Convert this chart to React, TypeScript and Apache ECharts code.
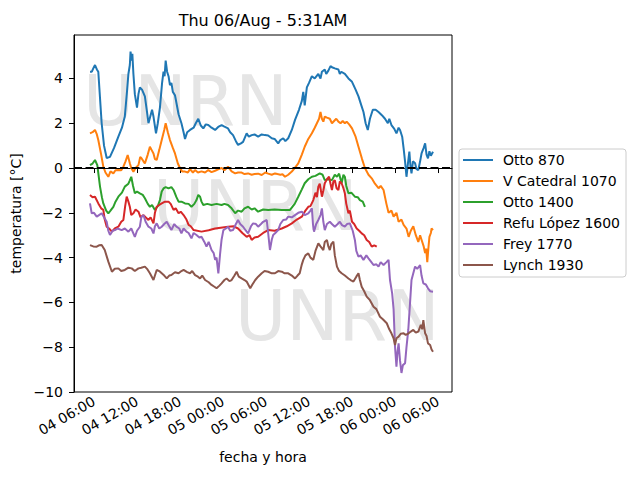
import React, { useEffect, useRef } from "react";
import * as echarts from "echarts";

// hours since 2020-08-04 00:00, temperature in ºC
const otto870: [number, number][] = [[5.44,4.3],[5.7,4.3],[5.9,4.45],[6.14,4.6],[6.4,4.4],[6.6,4.3],[7.07,2.0],[7.4,1.0],[7.77,0.45],[8.23,0.5],[8.8,0.9],[9.4,1.4],[9.9,1.8],[10.3,2.3],[10.6,3.4],[10.8,4.2],[11.0,4.6],[11.1,5.2],[11.25,4.8],[11.35,5.1],[11.5,4.2],[11.7,3.3],[12.0,2.7],[12.2,3.3],[12.4,3.6],[12.7,3.5],[13.1,3.2],[13.4,2.5],[13.6,2.0],[13.85,2.3],[14.1,2.6],[14.3,2.3],[14.65,1.55],[14.9,2.0],[15.2,2.7],[15.5,3.8],[15.7,4.3],[15.85,4.1],[16.0,4.8],[16.2,4.3],[16.4,4.1],[16.6,3.7],[16.8,3.8],[17.0,3.4],[17.3,3.25],[17.8,2.4],[18.2,2.0],[18.5,1.6],[18.7,1.3],[19.0,1.6],[19.4,1.7],[19.9,1.8],[20.2,2.0],[20.55,2.2],[20.9,1.9],[21.25,1.77],[21.6,1.95],[21.95,1.92],[22.4,1.8],[22.9,1.7],[23.4,1.85],[23.8,1.92],[24.2,1.85],[24.7,1.77],[25.0,1.6],[25.4,1.47],[25.8,1.2],[26.1,1.03],[26.5,1.1],[26.8,1.17],[27.3,1.55],[27.6,1.4],[28.0,1.47],[28.4,1.5],[28.9,1.4],[29.4,1.5],[29.85,1.47],[30.3,1.45],[30.8,1.33],[31.2,1.3],[31.7,1.1],[32.0,1.25],[32.4,1.33],[32.7,1.2],[33.1,1.33],[33.6,1.7],[34.05,2.15],[34.6,2.6],[35.0,3.0],[35.2,3.4],[35.4,2.8],[35.7,3.6],[36.0,3.8],[36.4,4.1],[36.8,4.0],[37.3,4.2],[37.6,4.0],[37.8,4.3],[38.2,4.4],[38.4,4.2],[38.7,4.35],[39.0,4.55],[39.2,4.5],[39.6,4.45],[40.1,4.4],[40.3,4.2],[40.5,4.3],[41.0,4.2],[41.5,4.0],[42.0,3.85],[42.5,3.5],[42.9,3.2],[43.3,2.8],[43.6,2.5],[43.9,2.0],[44.2,1.7],[44.5,2.2],[44.9,2.6],[45.3,2.6],[45.7,2.5],[46.2,2.35],[46.6,2.2],[47.0,2.0],[47.2,2.2],[47.5,1.92],[47.9,1.75],[48.2,1.55],[48.5,1.8],[48.7,1.7],[49.0,1.4],[49.2,0.88],[49.4,0.3],[49.6,-0.39],[49.8,0.2],[50.0,0.73],[50.15,0.1],[50.3,-0.24],[50.5,0.3],[50.8,0.21],[51.0,-0.05],[51.25,-0.09],[51.5,0.3],[51.7,0.65],[52.0,0.9],[52.2,1.1],[52.4,0.6],[52.6,0.43],[52.8,0.75],[53.0,0.55],[53.3,0.73]];

const vCatedral1070: [number, number][] = [[5.44,1.55],[5.8,1.6],[6.14,1.7],[6.4,1.5],[6.6,1.25],[7.0,0.6],[7.3,0.06],[7.6,-0.2],[8.0,-0.39],[8.3,-0.15],[8.7,-0.24],[9.0,-0.1],[9.4,-0.09],[9.8,-0.1],[10.1,0.06],[10.4,0.3],[10.7,0.58],[11.0,0.21],[11.2,0.0],[11.5,-0.16],[11.8,0.0],[12.2,0.13],[12.45,0.5],[12.65,0.43],[12.9,0.3],[13.1,0.21],[13.5,0.6],[13.8,0.95],[14.05,0.8],[14.3,0.65],[14.5,0.4],[14.75,0.36],[15.1,0.8],[15.45,1.25],[15.8,1.7],[16.0,2.0],[16.3,1.6],[16.6,1.25],[17.0,0.9],[17.3,0.65],[17.7,0.2],[18.0,0.0],[18.3,-0.15],[18.7,-0.16],[19.1,-0.2],[19.4,-0.05],[19.8,-0.2],[20.1,-0.09],[20.5,-0.2],[21.0,-0.15],[21.5,-0.2],[21.95,-0.09],[22.4,-0.18],[22.9,-0.12],[23.4,-0.05],[23.8,0.0],[24.2,-0.1],[24.7,0.06],[25.2,-0.15],[25.7,-0.24],[26.1,-0.2],[26.6,-0.2],[27.0,-0.27],[27.5,-0.24],[28.0,-0.3],[28.4,-0.27],[28.9,-0.25],[29.4,-0.31],[29.9,-0.2],[30.3,-0.25],[30.8,-0.3],[31.25,-0.24],[31.6,-0.27],[32.0,-0.3],[32.3,-0.28],[32.65,-0.39],[33.1,-0.3],[33.6,-0.16],[34.0,0.0],[34.5,0.21],[35.0,0.6],[35.4,0.95],[35.9,1.3],[36.4,1.55],[36.8,1.8],[37.1,2.0],[37.4,2.2],[37.6,2.5],[37.8,2.2],[38.0,2.07],[38.2,2.3],[38.5,2.25],[38.9,2.2],[39.2,2.0],[39.5,2.1],[39.8,2.2],[40.1,2.07],[40.4,2.0],[40.7,2.1],[41.0,2.0],[41.25,2.07],[41.6,1.95],[42.0,1.77],[42.5,1.4],[42.9,0.95],[43.4,0.4],[43.8,0.0],[44.3,-0.3],[44.75,-0.46],[45.2,-0.7],[45.7,-0.9],[46.0,-0.8],[46.4,-0.98],[46.8,-1.6],[47.1,-2.0],[47.5,-1.9],[47.8,-2.17],[48.2,-2.0],[48.5,-2.4],[48.9,-2.3],[49.2,-2.54],[49.6,-2.7],[49.9,-3.07],[50.2,-2.8],[50.55,-2.6],[50.9,-3.0],[51.25,-3.3],[51.5,-3.0],[51.7,-3.2],[52.0,-3.5],[52.2,-3.8],[52.35,-3.6],[52.5,-4.2],[52.65,-3.6],[52.8,-3.07],[53.0,-2.9],[53.1,-2.7],[53.3,-2.77]];

const otto1400: [number, number][] = [[5.44,0.13],[5.8,0.2],[6.14,0.36],[6.46,0.13],[6.84,-0.83],[7.1,-1.3],[7.3,-1.58],[7.7,-1.9],[8.0,-2.02],[8.3,-1.9],[8.7,-1.73],[9.0,-1.5],[9.4,-1.28],[9.9,-1.1],[10.3,-0.83],[10.8,-0.7],[11.0,-0.55],[11.2,-0.39],[11.45,-0.8],[11.7,-1.13],[12.0,-1.05],[12.4,-1.13],[12.8,-1.2],[13.1,-1.35],[13.5,-1.6],[13.8,-1.73],[14.1,-1.65],[14.5,-1.87],[14.9,-1.7],[15.2,-1.43],[15.45,-1.05],[15.7,-0.91],[16.0,-0.85],[16.4,-0.91],[16.8,-0.85],[17.1,-0.98],[17.5,-1.3],[17.8,-1.5],[18.2,-1.5],[18.7,-1.58],[19.2,-1.6],[19.6,-1.73],[20.0,-1.6],[20.3,-1.43],[20.55,-1.2],[20.8,-1.28],[21.0,-1.5],[21.25,-1.65],[21.8,-1.6],[22.4,-1.65],[23.1,-1.6],[23.8,-1.65],[24.2,-1.6],[24.7,-1.65],[25.2,-1.8],[25.7,-2.02],[26.1,-1.9],[26.6,-1.95],[27.0,-1.8],[27.5,-1.73],[28.0,-1.85],[28.4,-1.8],[28.9,-1.95],[29.6,-1.85],[30.3,-1.87],[31.2,-1.85],[32.2,-1.87],[33.35,-1.87],[34.0,-1.6],[34.5,-1.28],[35.0,-0.95],[35.4,-0.68],[35.9,-0.5],[36.4,-0.39],[36.9,-0.35],[37.5,-0.24],[37.9,-0.3],[38.2,-0.54],[38.7,-0.5],[39.2,-0.54],[39.6,-0.3],[39.9,-0.39],[40.2,-0.25],[40.55,-0.68],[40.8,-0.3],[41.0,-0.39],[41.2,-0.8],[41.5,-1.13],[41.9,-1.1],[42.4,-1.28],[42.8,-1.3],[43.1,-1.43],[43.5,-1.5],[43.8,-1.73]];

const refuLopez1600: [number, number][] = [[5.44,-1.2],[5.8,-1.3],[6.14,-1.28],[6.6,-1.58],[7.0,-1.8],[7.3,-1.87],[7.5,-2.3],[7.77,-2.62],[8.1,-2.7],[8.5,-2.84],[8.9,-2.7],[9.4,-2.62],[9.8,-2.4],[10.1,-2.32],[10.35,-1.7],[10.56,-1.28],[10.8,-1.5],[11.0,-1.73],[11.2,-2.1],[11.5,-2.02],[11.8,-1.85],[12.2,-1.95],[12.5,-2.2],[12.9,-2.1],[13.2,-2.2],[13.6,-2.32],[13.9,-2.2],[14.3,-2.47],[14.5,-2.0],[14.75,-1.73],[15.1,-1.65],[15.45,-1.58],[15.9,-1.5],[16.4,-1.5],[16.7,-1.6],[17.1,-1.87],[17.4,-1.8],[17.8,-2.02],[18.1,-1.95],[18.5,-2.1],[18.9,-2.3],[19.2,-2.54],[19.5,-2.6],[19.9,-2.77],[21.0,-2.84],[22.0,-2.78],[22.9,-2.7],[24.7,-2.62],[25.5,-2.6],[26.1,-2.7],[26.7,-2.9],[27.3,-3.07],[27.7,-3.0],[28.0,-3.21],[28.4,-3.1],[28.9,-3.07],[29.6,-2.9],[30.3,-2.77],[31.2,-2.8],[32.2,-2.7],[32.9,-2.6],[33.6,-2.47],[34.3,-2.3],[35.0,-2.17],[35.5,-1.9],[35.9,-1.73],[36.2,-1.7],[36.6,-1.43],[36.9,-1.1],[37.1,-1.3],[37.3,-0.83],[37.5,-0.7],[37.8,-1.28],[38.0,-1.0],[38.2,-0.68],[38.5,-0.5],[38.8,-0.39],[39.0,-0.7],[39.2,-0.98],[39.4,-0.6],[39.6,-0.54],[39.85,-0.9],[40.1,-0.98],[40.3,-0.6],[40.55,-0.68],[40.8,-0.9],[41.0,-1.13],[41.2,-1.6],[41.5,-2.02],[41.7,-1.9],[42.0,-2.4],[42.3,-2.5],[42.65,-2.7],[43.0,-2.8],[43.35,-2.92],[43.7,-3.0],[44.05,-3.21],[44.4,-3.3],[44.75,-3.51],[45.1,-3.45],[45.45,-3.51]];

const frey1770: [number, number][] = [[5.44,-1.58],[5.68,-2.02],[6.0,-2.0],[6.38,-2.17],[6.7,-2.1],[7.07,-2.02],[7.4,-2.2],[7.77,-2.4],[8.0,-2.8],[8.23,-2.99],[8.6,-2.8],[8.93,-2.77],[9.3,-2.7],[9.86,-2.77],[10.3,-2.7],[10.8,-2.84],[11.2,-2.7],[11.7,-3.07],[12.0,-2.8],[12.4,-2.62],[12.6,-2.2],[12.9,-2.1],[13.2,-2.4],[13.6,-2.62],[14.0,-2.7],[14.3,-2.92],[14.5,-2.6],[14.75,-2.47],[15.1,-2.7],[15.45,-2.62],[15.8,-2.5],[16.15,-2.4],[16.5,-2.6],[16.8,-2.77],[17.2,-2.5],[17.5,-2.62],[17.9,-2.7],[18.2,-2.92],[18.5,-2.7],[18.9,-2.84],[19.2,-2.9],[19.6,-3.14],[19.9,-2.9],[20.3,-2.99],[20.7,-3.1],[21.0,-3.07],[21.4,-3.3],[21.7,-3.51],[22.0,-3.3],[22.4,-3.66],[22.7,-3.8],[22.9,-4.1],[23.1,-4.0],[23.35,-4.7],[23.6,-3.81],[23.8,-3.2],[24.05,-2.77],[24.4,-2.7],[24.7,-2.62],[25.0,-2.8],[25.4,-2.77],[25.8,-2.5],[26.1,-2.32],[26.4,-2.5],[26.8,-2.62],[27.2,-2.8],[27.5,-2.92],[27.9,-2.6],[28.2,-2.47],[28.6,-2.5],[28.9,-2.62],[29.3,-2.5],[29.6,-2.4],[30.1,-2.32],[30.3,-2.9],[30.55,-3.66],[30.8,-3.2],[31.0,-2.99],[31.3,-2.9],[31.7,-2.77],[32.0,-2.5],[32.4,-2.32],[32.8,-2.3],[33.1,-2.17],[33.6,-2.2],[34.05,-2.1],[34.5,-2.0],[35.0,-1.95],[35.4,-2.1],[35.9,-2.02],[36.2,-1.9],[36.4,-1.8],[36.55,-2.5],[36.7,-2.84],[37.0,-2.5],[37.3,-2.32],[37.6,-2.1],[37.8,-1.8],[38.0,-2.4],[38.2,-2.77],[38.5,-2.5],[38.9,-2.4],[39.2,-2.5],[39.6,-2.62],[40.0,-2.5],[40.3,-2.4],[40.6,-2.55],[41.0,-2.62],[41.3,-2.5],[41.7,-2.47],[42.1,-2.8],[42.4,-3.21],[42.6,-3.7],[42.9,-3.96],[43.2,-3.9],[43.6,-4.1],[44.0,-3.9],[44.3,-4.03],[44.7,-4.2],[45.0,-4.33],[45.4,-4.3],[45.7,-4.4],[46.0,-4.2],[46.4,-4.33],[46.8,-4.2],[47.1,-4.1],[47.3,-5.0],[47.6,-5.6],[47.8,-6.3],[48.0,-7.98],[48.2,-8.87],[48.35,-8.2],[48.5,-7.83],[48.7,-8.6],[48.9,-9.15],[49.1,-8.8],[49.4,-8.72],[49.6,-8.0],[49.85,-7.23],[50.1,-6.0],[50.3,-5.0],[50.55,-4.7],[50.8,-4.4],[51.1,-4.5],[51.5,-4.33],[51.7,-4.8],[51.95,-5.15],[52.3,-5.2],[52.6,-5.37],[52.9,-5.5],[53.3,-5.52]];

const lynch1930: [number, number][] = [[5.44,-3.44],[5.9,-3.5],[6.38,-3.51],[6.7,-3.45],[7.07,-3.44],[7.5,-3.66],[8.0,-4.18],[8.5,-4.63],[8.9,-4.5],[9.4,-4.48],[9.8,-4.6],[10.3,-4.55],[10.8,-4.45],[11.26,-4.48],[11.7,-4.6],[12.2,-4.48],[12.6,-4.45],[13.1,-4.4],[13.4,-4.5],[13.8,-4.7],[14.3,-5.0],[14.5,-4.8],[14.75,-4.55],[15.1,-4.6],[15.45,-4.7],[15.8,-4.8],[16.15,-4.93],[16.5,-4.8],[16.8,-4.78],[17.3,-4.65],[17.8,-4.7],[18.2,-4.6],[18.5,-4.55],[19.0,-4.65],[19.4,-4.7],[19.7,-4.6],[20.1,-4.78],[20.5,-4.85],[20.8,-4.93],[21.1,-4.8],[21.5,-5.0],[22.0,-5.1],[22.4,-5.22],[22.8,-5.3],[23.1,-5.37],[23.5,-5.25],[23.8,-5.15],[24.2,-5.0],[24.5,-4.93],[24.9,-5.05],[25.2,-5.0],[25.6,-4.8],[25.9,-4.63],[26.2,-4.85],[26.6,-4.93],[27.0,-5.0],[27.3,-5.07],[27.8,-5.37],[28.1,-5.2],[28.5,-5.0],[28.9,-4.85],[29.4,-4.7],[29.8,-4.6],[30.3,-4.63],[30.8,-4.7],[31.25,-4.7],[31.7,-4.6],[32.2,-4.63],[32.6,-4.7],[33.1,-4.7],[33.6,-4.8],[34.05,-4.93],[34.4,-4.8],[34.7,-4.7],[35.0,-4.3],[35.2,-4.1],[35.5,-3.9],[35.9,-3.81],[36.2,-4.0],[36.6,-4.1],[36.9,-3.7],[37.3,-3.36],[37.6,-3.5],[38.0,-3.66],[38.2,-3.3],[38.5,-3.21],[38.7,-3.5],[38.9,-3.66],[39.1,-3.4],[39.4,-3.29],[39.6,-3.9],[39.9,-4.4],[40.2,-4.6],[40.55,-4.7],[41.0,-4.8],[41.5,-4.93],[41.8,-5.0],[42.2,-5.07],[42.6,-4.85],[42.9,-4.7],[43.1,-5.0],[43.35,-5.3],[43.7,-5.5],[44.05,-5.74],[44.5,-5.9],[45.0,-6.19],[45.4,-6.3],[45.9,-6.64],[46.3,-6.75],[46.85,-6.93],[47.2,-7.2],[47.5,-7.38],[47.8,-7.6],[48.0,-7.9],[48.2,-7.6],[48.5,-7.53],[48.8,-7.4],[49.2,-7.38],[49.5,-7.45],[49.9,-7.38],[50.2,-7.3],[50.55,-7.23],[50.9,-7.35],[51.25,-7.3],[51.6,-7.0],[51.8,-7.2],[51.95,-6.79],[52.2,-7.38],[52.4,-7.5],[52.6,-7.83],[52.9,-7.9],[53.1,-8.1],[53.3,-8.2]];

const seriesNames = ["Otto 870", "V Catedral 1070", "Otto 1400", "Refu López 1600", "Frey 1770", "Lynch 1930"];
const seriesData = [otto870, vCatedral1070, otto1400, refuLopez1600, frey1770, lynch1930];
const colors = ["#1f77b4", "#ff7f0e", "#2ca02c", "#d62728", "#9467bd", "#8c564b"];
const xTicks = [6, 12, 18, 24, 30, 36, 42, 48, 54];
const title = "Thu 06/Aug - 5:31AM";
const watermark = "UNRN";

const pad = (n: number) => (n < 10 ? "0" + n : "" + n);
const fmtX = (h: number) => `${pad(4 + Math.floor(h / 24))} ${pad(Math.round(h % 24))}:00`;
const FONT = "DejaVu Sans";

export default function App() {
  const ref = useRef<HTMLDivElement>(null);
  useEffect(() => {
    if (!ref.current) return;
    const chart = echarts.init(ref.current, undefined, { renderer: "svg" });
    chart.setOption({
      animation: false,
      backgroundColor: "#fff",
      textStyle: { fontFamily: FONT },
      title: {
        text: title,
        left: 263,
        top: 12,
        padding: 0,
        textAlign: "center",
        textStyle: { fontFamily: FONT, fontSize: 16, fontWeight: "normal", color: "#000" },
      },
      grid: { left: 74, top: 35, right: 188, bottom: 88, show: true, borderColor: "#000", borderWidth: 1, backgroundColor: "transparent" },
      graphic: [
        { type: "text", x: 83, y: 101, z: 0, silent: true, style: { text: watermark, fontSize: 70, fontFamily: FONT, fill: "#e5e5e5", verticalAlign: "middle" } },
        { type: "text", x: 153, y: 206, z: 0, silent: true, style: { text: watermark, fontSize: 70, fontFamily: FONT, fill: "#e5e5e5", verticalAlign: "middle" } },
        { type: "text", x: 235, y: 316, z: 0, silent: true, style: { text: watermark, fontSize: 70, fontFamily: FONT, fill: "#e5e5e5", verticalAlign: "middle" } },
      ],
      legend: {
        orient: "vertical",
        left: 459,
        top: 149,
        padding: [4, 6, 5, 3],
        itemWidth: 30,
        itemHeight: 14,
        itemGap: 7,
        borderColor: "#cccccc",
        borderWidth: 1,
        borderRadius: 3,
        backgroundColor: "#fff",
        data: seriesNames,
        itemStyle: { opacity: 0 },
        lineStyle: { width: 2 },
        textStyle: { fontFamily: FONT, fontSize: 14, color: "#000", padding: [0, 0, 0, 5] },
      },
      xAxis: {
        type: "value",
        min: 3.21,
        max: 55.95,
        name: "fecha y hora",
        nameLocation: "middle",
        nameGap: 58,
        nameTextStyle: { fontFamily: FONT, fontSize: 14, color: "#000" },
        axisLine: { show: true, lineStyle: { color: "#000", width: 1 } },
        axisTick: { show: true, length: 5, lineStyle: { color: "#000" }, customValues: xTicks },
        axisLabel: { customValues: xTicks, rotate: 30, fontFamily: FONT, fontSize: 14, color: "#000", margin: 8, formatter: (v: number) => fmtX(v) },
        splitLine: { show: false },
      },
      yAxis: {
        type: "value",
        min: -10,
        max: 5.94,
        interval: 2,
        name: "temperatura [°C]",
        nameLocation: "middle",
        nameGap: 46,
        nameTextStyle: { fontFamily: FONT, fontSize: 14, color: "#000" },
        axisLine: { show: true, lineStyle: { color: "#000", width: 1 } },
        axisTick: { show: true, length: 5, lineStyle: { color: "#000" } },
        axisLabel: { fontFamily: FONT, fontSize: 14, color: "#000", margin: 11, showMaxLabel: false, formatter: (v: number) => String(v).replace("-", "\u2212") },
        splitLine: { show: false },
      },
      series: seriesNames.map((name, i) => ({
        name,
        type: "line",
        data: seriesData[i],
        symbol: "none",
        showSymbol: false,
        color: colors[i],
        lineStyle: { color: colors[i], width: 2 },
        z: 3,
        ...(i === 0
          ? {
              markLine: {
                silent: true,
                symbol: ["none", "none"],
                label: { show: false },
                lineStyle: { color: "#000", type: [8, 3.5], width: 2 },
                data: [{ yAxis: 0 }],
              },
            }
          : {}),
      })),
    });
    return () => chart.dispose();
  }, []);
  return <div ref={ref} style={{ position: "fixed", left: 0, top: 0, width: 640, height: 480 }} />;
}
